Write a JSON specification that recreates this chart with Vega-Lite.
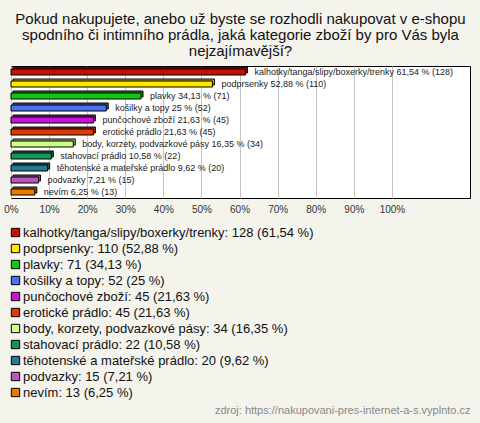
{
  "$schema": "https://vega.github.io/schema/vega-lite/v6.json",
  "autosize": {"type": "none"},
  "padding": {"left": 11, "top": 66, "right": 10, "bottom": 225},
  "width": 459,
  "height": 132,
  "background": "#f4f3ec",
  "title": {
    "text": ["Pokud nakupujete, anebo už byste se rozhodli nakupovat v e-shopu", "spodního či intimního prádla, jaká kategorie zboží by pro Vás byla", "nejzajímavější?"],
    "font": "Liberation Sans",
    "fontSize": 15,
    "fontWeight": "normal",
    "color": "#111111",
    "lineHeight": 16,
    "anchor": "middle",
    "offset": 7
  },
  "config": {
    "view": {"fill": "white", "stroke": "#000000", "strokeWidth": 1},
    "font": "Liberation Sans"
  },
  "data": {
    "values": [
      {"cat": "kalhotky/tanga/slipy/boxerky/trenky", "count": 128, "pct": 61.54, "label": "kalhotky/tanga/slipy/boxerky/trenky 61,54 % (128)", "legend": "kalhotky/tanga/slipy/boxerky/trenky: 128 (61,54 %)"},
      {"cat": "podprsenky", "count": 110, "pct": 52.88, "label": "podprsenky 52,88 % (110)", "legend": "podprsenky: 110 (52,88 %)"},
      {"cat": "plavky", "count": 71, "pct": 34.13, "label": "plavky 34,13 % (71)", "legend": "plavky: 71 (34,13 %)"},
      {"cat": "košilky a topy", "count": 52, "pct": 25, "label": "košilky a topy 25 % (52)", "legend": "košilky a topy: 52 (25 %)"},
      {"cat": "punčochové zboží", "count": 45, "pct": 21.63, "label": "punčochové zboží 21,63 % (45)", "legend": "punčochové zboží: 45 (21,63 %)"},
      {"cat": "erotické prádlo", "count": 45, "pct": 21.63, "label": "erotické prádlo 21,63 % (45)", "legend": "erotické prádlo: 45 (21,63 %)"},
      {"cat": "body, korzety, podvazkové pásy", "count": 34, "pct": 16.35, "label": "body, korzety, podvazkové pásy 16,35 % (34)", "legend": "body, korzety, podvazkové pásy: 34 (16,35 %)"},
      {"cat": "stahovací prádlo", "count": 22, "pct": 10.58, "label": "stahovací prádlo 10,58 % (22)", "legend": "stahovací prádlo: 22 (10,58 %)"},
      {"cat": "těhotenské a mateřské prádlo", "count": 20, "pct": 9.62, "label": "těhotenské a mateřské prádlo 9,62 % (20)", "legend": "těhotenské a mateřské prádlo: 20 (9,62 %)"},
      {"cat": "podvazky", "count": 15, "pct": 7.21, "label": "podvazky 7,21 % (15)", "legend": "podvazky: 15 (7,21 %)"},
      {"cat": "nevím", "count": 13, "pct": 6.25, "label": "nevím 6,25 % (13)", "legend": "nevím: 13 (6,25 %)"}
    ]
  },
  "encoding": {
    "y": {"field": "cat", "type": "nominal", "sort": null, "axis": null, "scale": {"paddingInner": 0, "paddingOuter": 0}},
    "x": {
      "field": "pct", "type": "quantitative",
      "scale": {"domain": [0, 120.5], "nice": false},
      "axis": {
        "values": [0, 10, 20, 30, 40, 50, 60, 70, 80, 90, 100],
        "labelExpr": "datum.value + '%'",
        "grid": true, "gridColor": "#c4c4c4", "gridWidth": 1,
        "domain": false, "ticks": false,
        "labelFont": "Liberation Sans", "labelFontSize": 10, "labelColor": "#333333",
        "labelPadding": 6, "labelFlush": false,
        "title": "zdroj: https://nakupovani-pres-internet-a-s.vyplnto.cz",
        "titleFont": "Liberation Sans", "titleFontSize": 11, "titleFontWeight": "normal",
        "titleColor": "#888888", "titleAnchor": "end", "titleAlign": "right",
        "titleX": 459, "titleY": 217, "titleBaseline": "bottom"
      }
    }
  },
  "layer": [
    {
      "mark": {"type": "bar", "size": 6, "xOffset": 2, "yOffset": -2, "stroke": "#000000", "strokeWidth": 1},
      "encoding": {
        "color": {"field": "legend", "type": "nominal",
          "scale": {"domain": ["kalhotky/tanga/slipy/boxerky/trenky: 128 (61,54 %)", "podprsenky: 110 (52,88 %)", "plavky: 71 (34,13 %)", "košilky a topy: 52 (25 %)", "punčochové zboží: 45 (21,63 %)", "erotické prádlo: 45 (21,63 %)", "body, korzety, podvazkové pásy: 34 (16,35 %)", "stahovací prádlo: 22 (10,58 %)", "těhotenské a mateřské prádlo: 20 (9,62 %)", "podvazky: 15 (7,21 %)", "nevím: 13 (6,25 %)"],
            "range": ["#c41200", "#ffe600", "#13c413", "#4a72ee", "#c814d4", "#de3a06", "#ccff8a", "#14985a", "#227a96", "#b858bc", "#ea7a00"]},
          "legend": {
            "title": null, "orient": "none", "legendX": -2, "legendY": 160,
            "symbolType": "square", "symbolSize": 70, "symbolStrokeColor": "#000000", "symbolStrokeWidth": 1, "symbolOpacity": 1,
            "labelFont": "Liberation Sans", "labelFontSize": 13, "labelColor": "#111111", "labelLimit": 470,
            "labelOffset": 1, "rowPadding": 2
          }
        }
      }
    },
    {
      "mark": {"type": "bar", "size": 6, "xOffset": 2, "yOffset": -2, "fill": "#000000", "opacity": 0.25},
      "encoding": {}
    },
    {
      "mark": {"type": "bar", "size": 6, "stroke": "#000000", "strokeWidth": 1},
      "encoding": {
        "color": {"field": "legend", "type": "nominal"}
      }
    },
    {
      "mark": {"type": "text", "align": "left", "baseline": "middle", "dx": 9, "font": "Liberation Sans", "fontSize": 9, "color": "#222222"},
      "encoding": {"text": {"field": "label"}}
    }
  ]
}
